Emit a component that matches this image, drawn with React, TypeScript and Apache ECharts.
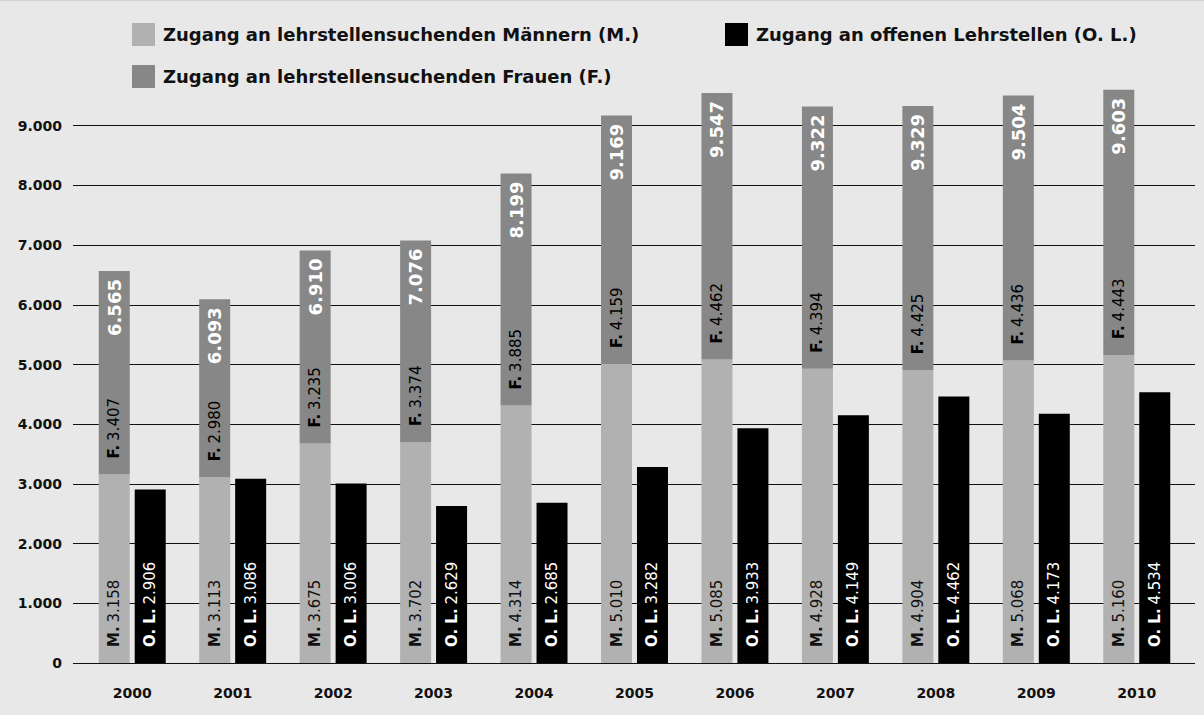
import React, { useEffect, useRef } from "react";
import * as echarts from "echarts";

const years = ["2000", "2001", "2002", "2003", "2004", "2005", "2006", "2007", "2008", "2009", "2010"];
const maenner = [3158, 3113, 3675, 3702, 4314, 5010, 5085, 4928, 4904, 5068, 5160];
const frauen = [3407, 2980, 3235, 3374, 3885, 4159, 4462, 4394, 4425, 4436, 4443];
const summe = [6565, 6093, 6910, 7076, 8199, 9169, 9547, 9322, 9329, 9504, 9603];
const offene = [2906, 3086, 3006, 2629, 2685, 3282, 3933, 4149, 4462, 4173, 4534];

const NAME_M = "Zugang an lehrstellensuchenden Männern (M.)";
const NAME_F = "Zugang an lehrstellensuchenden Frauen (F.)";
const NAME_OL = "Zugang an offenen Lehrstellen (O. L.)";

const FONT = "DejaVu Sans";
const fmt = (v: number) => {
  const s = String(Math.round(v));
  return s.replace(/\B(?=(\d{3})+(?!\d))/g, ".");
};

export default function App() {
  const ref = useRef<HTMLDivElement>(null);
  useEffect(() => {
    document.body.style.margin = "0";
    const chart = echarts.init(ref.current!, null, { renderer: "svg" });
    const barLabel = (prefix: string, color: string) => ({
      show: true,
      position: "insideBottom",
      rotate: 90,
      align: "left",
      verticalAlign: "middle",
      distance: 16,
      formatter: (p: any) => `{b|${prefix}} {v|${fmt(p.value)}}`,
      rich: {
        b: { fontFamily: FONT, fontWeight: "bold", fontSize: 15, color },
        v: { fontFamily: FONT, fontWeight: "normal", fontSize: 15, color },
      },
    });
    const legendText = { fontFamily: FONT, fontWeight: "bold", fontSize: 18, color: "#111", padding: [0, 0, 0, 3] };
    const gridTop = 66;
    const gridBottom = 52;
    chart.setOption({
      animation: false,
      backgroundColor: "#e8e8e8",
      textStyle: { fontFamily: FONT },
      graphic: [
        { type: "line", shape: { x1: 0, y1: 0.5, x2: 1204, y2: 0.5 }, style: { stroke: "#d2d2d2", lineWidth: 1 } },
      ],
      legend: [
        { data: [NAME_M], left: 132, top: 23, padding: 0, itemWidth: 23, itemHeight: 23, icon: "rect", textStyle: legendText },
        { data: [NAME_OL], left: 725, top: 23, padding: 0, itemWidth: 23, itemHeight: 23, icon: "rect", textStyle: legendText },
        { data: [NAME_F], left: 132, top: 65, padding: 0, itemWidth: 23, itemHeight: 23, icon: "rect", textStyle: legendText },
      ],
      grid: [
        { left: 73, right: 9, top: gridTop, bottom: gridBottom },
        { left: 82, right: 17, top: gridTop, bottom: gridBottom },
      ],
      xAxis: [
        { gridIndex: 0, type: "value", show: false, min: 0, max: 1 },
        {
          gridIndex: 1,
          type: "category",
          data: years,
          axisLine: { show: false },
          axisTick: { show: false },
          axisLabel: { fontFamily: FONT, fontWeight: "bold", fontSize: 14, color: "#111", margin: 23 },
        },
      ],
      yAxis: [
        {
          gridIndex: 0,
          type: "value",
          min: 0,
          max: 10000,
          interval: 1000,
          axisLine: { show: false },
          axisTick: { show: false },
          axisLabel: {
            fontFamily: FONT, fontWeight: "bold", fontSize: 14, color: "#111", margin: 11,
            showMaxLabel: false,
            formatter: (v: number) => fmt(v),
          },
          splitLine: { show: true, showMaxLine: false, lineStyle: { color: "#111", width: 1 } },
        },
        { gridIndex: 1, type: "value", min: 0, max: 10000, interval: 1000, show: false, splitLine: { show: false } },
      ],
      series: [
        {
          name: NAME_M, type: "bar", stack: "mf", xAxisIndex: 1, yAxisIndex: 1,
          data: maenner, barWidth: 31, barGap: "16%",
          itemStyle: { color: "#b1b1b1" },
          label: barLabel("M.", "#111"),
        },
        {
          name: NAME_F, type: "bar", stack: "mf", xAxisIndex: 1, yAxisIndex: 1,
          data: frauen, barWidth: 31, barGap: "16%",
          itemStyle: { color: "#878787" },
          label: barLabel("F.", "#000"),
        },
        {
          name: "Summe", type: "bar", stack: "mf", xAxisIndex: 1, yAxisIndex: 1,
          data: summe.map(() => 0), barWidth: 31, barGap: "16%",
          itemStyle: { color: "rgba(0,0,0,0)" },
          label: {
            show: true,
            position: "insideTop",
            rotate: 90,
            align: "right",
            verticalAlign: "middle",
            distance: 8,
            formatter: (p: any) => fmt(summe[p.dataIndex]),
            fontFamily: FONT, fontWeight: "bold", fontSize: 18, color: "#fff",
          },
          tooltip: { show: false },
        },
        {
          name: NAME_OL, type: "bar", xAxisIndex: 1, yAxisIndex: 1,
          data: offene, barWidth: 31, barGap: "16%",
          itemStyle: { color: "#000" },
          label: barLabel("O. L.", "#fff"),
        },
      ],
    });
    return () => chart.dispose();
  }, []);
  return <div ref={ref} style={{ width: 1204, height: 715 }} />;
}
